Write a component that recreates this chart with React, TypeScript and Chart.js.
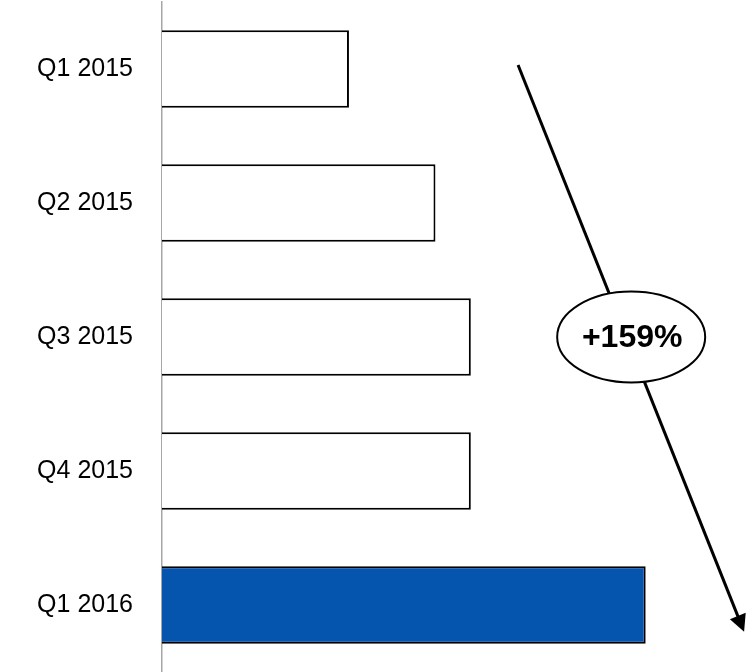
import React, { useEffect, useRef } from "react";
import { Chart, registerables } from "chart.js";

Chart.register(...registerables);

const categories = ["Q1 2015", "Q2 2015", "Q3 2015", "Q4 2015", "Q1 2016"];
const values = [100.5, 147, 166, 166, 260];
const barColors = ["#ffffff", "#ffffff", "#ffffff", "#ffffff", "#0554AD"];
const changeLabel = "+159%";
// annotation anchors in data space: [x value, category index]
const arrowStart = [191.4, -0.03];
const arrowEnd = [312.9, 4.2];
const bubbleCenter = [252.2, 2.0];
const xMax = 315;

const annotationPlugin = {
  id: "growthArrow",
  afterDatasetsDraw(chart: any) {
    const { ctx, scales } = chart;
    const xs = scales.x;
    const ys = scales.y;
    const x1 = xs.getPixelForValue(arrowStart[0]);
    const y1 = ys.getPixelForValue(arrowStart[1]);
    const x2 = xs.getPixelForValue(arrowEnd[0]);
    const y2 = ys.getPixelForValue(arrowEnd[1]);
    const ang = Math.atan2(y2 - y1, x2 - x1);
    const headLen = 17;
    const headHalf = 8.5;
    ctx.save();
    ctx.strokeStyle = "#000";
    ctx.fillStyle = "#000";
    ctx.lineWidth = 3;
    ctx.beginPath();
    ctx.moveTo(x1, y1);
    ctx.lineTo(x2 - Math.cos(ang) * (headLen - 2), y2 - Math.sin(ang) * (headLen - 2));
    ctx.stroke();
    ctx.beginPath();
    ctx.moveTo(x2, y2);
    const bx = x2 - Math.cos(ang) * headLen;
    const by = y2 - Math.sin(ang) * headLen;
    ctx.lineTo(bx + Math.sin(ang) * headHalf, by - Math.cos(ang) * headHalf);
    ctx.lineTo(bx - Math.sin(ang) * headHalf, by + Math.cos(ang) * headHalf);
    ctx.closePath();
    ctx.fill();

    const cx = xs.getPixelForValue(bubbleCenter[0]);
    const cy = ys.getPixelForValue(bubbleCenter[1]);
    ctx.beginPath();
    ctx.ellipse(cx, cy, 74, 45.5, 0, 0, Math.PI * 2);
    ctx.fillStyle = "#fff";
    ctx.fill();
    ctx.lineWidth = 2;
    ctx.strokeStyle = "#000";
    ctx.stroke();
    ctx.fillStyle = "#000";
    ctx.font = "bold 32px 'Liberation Sans', Arial, sans-serif";
    ctx.textAlign = "center";
    ctx.textBaseline = "middle";
    ctx.fillText(changeLabel, cx + 1, cy + 1);
    ctx.restore();
  },
};

export default function App() {
  const canvasRef = useRef<HTMLCanvasElement>(null);

  useEffect(() => {
    if (!canvasRef.current) return;
    const chart = new Chart(canvasRef.current, {
      type: "bar",
      data: {
        labels: categories,
        datasets: [
          {
            data: values,
            backgroundColor: barColors,
            borderColor: "#000",
            borderWidth: 2,
            borderSkipped: "start",
            barPercentage: 0.578,
            categoryPercentage: 1,
          },
        ],
      },
      options: {
        indexAxis: "y",
        animation: false,
        responsive: true,
        maintainAspectRatio: false,
        layout: { padding: { top: 2, bottom: 0, left: 0, right: 2 } },
        plugins: {
          legend: { display: false },
          tooltip: { enabled: false },
        },
        scales: {
          x: {
            display: false,
            min: 0,
            max: xMax,
          },
          y: {
            z: 1,
            grid: { display: false, drawTicks: false },
            border: { display: true, color: "#a6a6a6", width: 1.5 },
            ticks: {
              color: "#000",
              padding: 29,
              font: { size: 25, family: "'Liberation Sans', Arial, sans-serif" },
            },
            afterFit(scale: any) {
              scale.width = 162;
              scale.paddingTop = 0;
              scale.paddingBottom = 0;
            },
          },
        },
      },
      plugins: [annotationPlugin],
    });
    return () => chart.destroy();
  }, []);

  return (
    <div style={{ position: "fixed", top: 0, left: 0, width: 750, height: 672, background: "#fff" }}>
      <canvas ref={canvasRef} />
    </div>
  );
}
